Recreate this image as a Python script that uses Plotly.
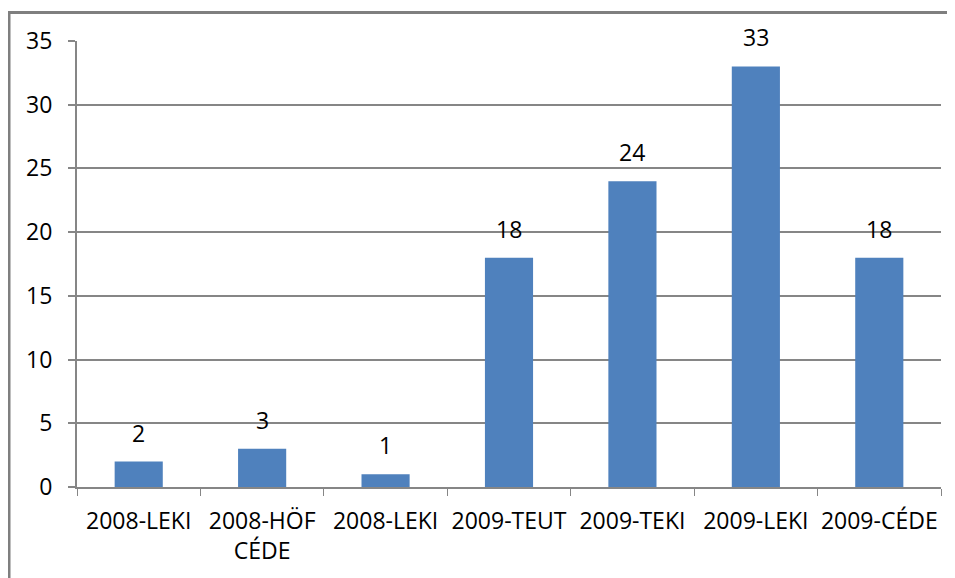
import plotly.graph_objects as go

categories = ["2008-LEKI", "2008-HÖF<br>CÉDE", "2008-LEKI", "2009-TEUT", "2009-TEKI", "2009-LEKI", "2009-CÉDE"]
values = [2, 3, 1, 18, 24, 33, 18]
y_ticks = [0, 5, 10, 15, 20, 25, 30, 35]

x_pos = list(range(len(categories)))
FONT = "Open Sans"
GRAY = "#868686"

fig = go.Figure(go.Bar(
    x=x_pos, y=values, width=0.39,
    marker=dict(color="#4F81BD", line=dict(width=0)),
    hoverinfo="x+y",
))

annotations = [
    dict(x=xi, y=v, xref="x", yref="y", text=str(v), showarrow=False,
         xanchor="center", yanchor="bottom", yshift=11,
         font=dict(family=FONT, size=23, color="#000000"))
    for xi, v in zip(x_pos, values)
]

fig.update_layout(
    width=947, height=570,
    margin=dict(l=69, r=14, t=33, b=91),
    paper_bgcolor="white", plot_bgcolor="white",
    showlegend=False,
    font=dict(family=FONT, size=23, color="#000000"),
    annotations=annotations,
    xaxis=dict(
        range=[-0.5, len(categories) - 0.5],
        tickvals=x_pos, ticktext=categories, tickangle=0,
        ticks="", showgrid=False, zeroline=False,
        showline=True, linecolor=GRAY, linewidth=2,
        tickfont=dict(family=FONT, size=23, color="#000000"),
        ticklabelstandoff=12,
        minor=dict(tick0=-0.5, dtick=1, ticks="outside", ticklen=7,
                   tickcolor=GRAY, tickwidth=1, showgrid=False),
        fixedrange=True,
    ),
    yaxis=dict(
        range=[0, 35], tickvals=y_ticks,
        ticks="outside", ticklen=7, tickcolor=GRAY, tickwidth=2,
        showgrid=True, gridcolor=GRAY, gridwidth=2,
        zeroline=False, showline=True, linecolor=GRAY, linewidth=2,
        tickfont=dict(family=FONT, size=23, color="#000000"),
        ticklabelstandoff=11,
        fixedrange=True,
    ),
    shapes=[dict(type="path", xref="paper", yref="paper",
                 path="M -0.0787,-0.3 L -0.0787,1.0639 L 1.2,1.0639",
                 line=dict(color="#7f7f7f", width=3), layer="below")],
)

fig.write_html("out.html")
